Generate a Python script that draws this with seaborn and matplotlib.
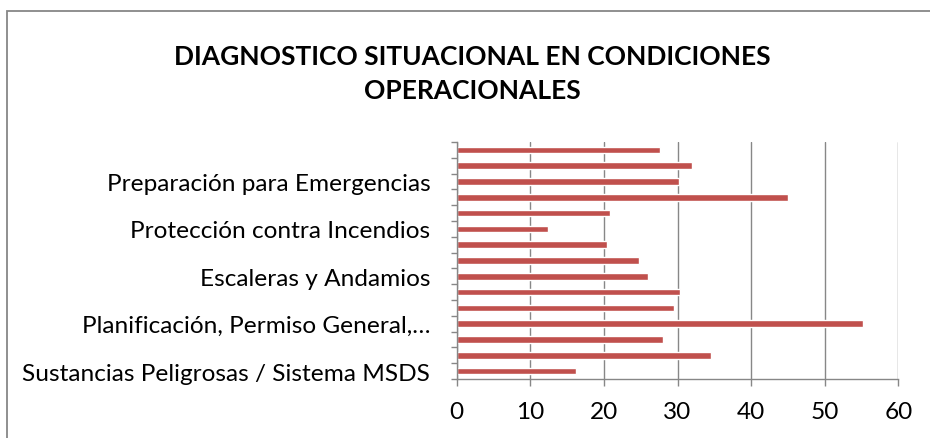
import matplotlib
matplotlib.use("Agg")
import matplotlib.pyplot as plt
import seaborn as sns
import pandas as pd
from matplotlib.patches import Rectangle
from matplotlib.ticker import FixedLocator

# Categories listed top to bottom as drawn
categorias = [
    "Ergonomía",
    "Señalización",
    "Preparación para Emergencias",
    "Orden y Limpieza",
    "Equipos de Protección Personal",
    "Protección contra Incendios",
    "Herramientas Manuales",
    "Trabajos en Altura",
    "Escaleras y Andamios",
    "Espacios Confinados",
    "Electricidad",
    "Planificación, Permiso General,…",
    "Iluminación",
    "Ventilación",
    "Sustancias Peligrosas / Sistema MSDS",
]
valores = [27.6, 32.0, 30.2, 45.0, 20.8, 12.4, 20.4, 24.8, 26.0, 30.3, 29.5, 55.2, 28.0, 34.6, 16.2]
etiquetas_visibles = [2, 5, 8, 11, 14]
titulo_l1 = "DIAGNOSTICO SITUACIONAL EN CONDICIONES"
titulo_l2 = "OPERACIONALES"
x_ticks = [0, 10, 20, 30, 40, 50, 60]

df = pd.DataFrame({"categoria": categorias, "valor": valores})

sns.set_theme(style="white")
plt.rcParams['font.family'] = ['Lato', 'DejaVu Sans']
plt.rcParams['text.color'] = 'black'

fig = plt.figure(figsize=(9.3, 4.39), dpi=100)
W, H = 930, 439
ax = fig.add_axes([456.7 / W, 59 / H, (898.3 - 456.7) / W, (380 - 143) / H])

sns.barplot(data=df, x="valor", y="categoria", orient="h", color="#C0504D",
            width=0.42, saturation=1, ax=ax)

grid_c = "#878787"
ax.set_xlim(0, 60)
ax.set_ylim(14.5, -0.5)
ax.set_xticks(x_ticks)
ax.set_xticklabels([str(t) for t in x_ticks])
ax.xaxis.grid(True, color=grid_c, linewidth=1.0)
ax.set_axisbelow(True)
for s in ["top", "right"]:
    ax.spines[s].set_visible(False)
for s in ["left", "bottom"]:
    ax.spines[s].set_color(grid_c)
    ax.spines[s].set_linewidth(1.0)

ax.set_yticks(range(len(categorias)))
ax.set_yticklabels([c if i in etiquetas_visibles else "" for i, c in enumerate(categorias)])
ax.yaxis.set_minor_locator(FixedLocator([i - 0.5 for i in range(len(categorias) + 1)]))
ax.tick_params(axis="y", which="major", length=0, pad=19, labelsize=17.6, labelcolor="black")
ax.tick_params(axis="y", which="minor", length=4, width=1, color=grid_c, direction="out", left=True)
ax.tick_params(axis="x", which="major", length=5, width=1, color=grid_c, direction="out",
               pad=11, labelsize=17.6, labelcolor="black", bottom=True)
ax.set_xlabel("")
ax.set_ylabel("")

fig.text(472 / W, 1 - 57 / H, titulo_l1, ha="center", va="center", fontsize=19,
         fontweight="bold", color="black")
fig.text(472 / W, 1 - 91 / H, titulo_l2, ha="center", va="center", fontsize=19,
         fontweight="bold", color="black")

fig.patches.append(Rectangle((7 / W, -0.1), 2.0, (H - 12) / H + 0.1, transform=fig.transFigure,
                             fill=False, edgecolor="#878787", linewidth=1.3, clip_on=False))

fig.savefig("out.png", dpi=100)
